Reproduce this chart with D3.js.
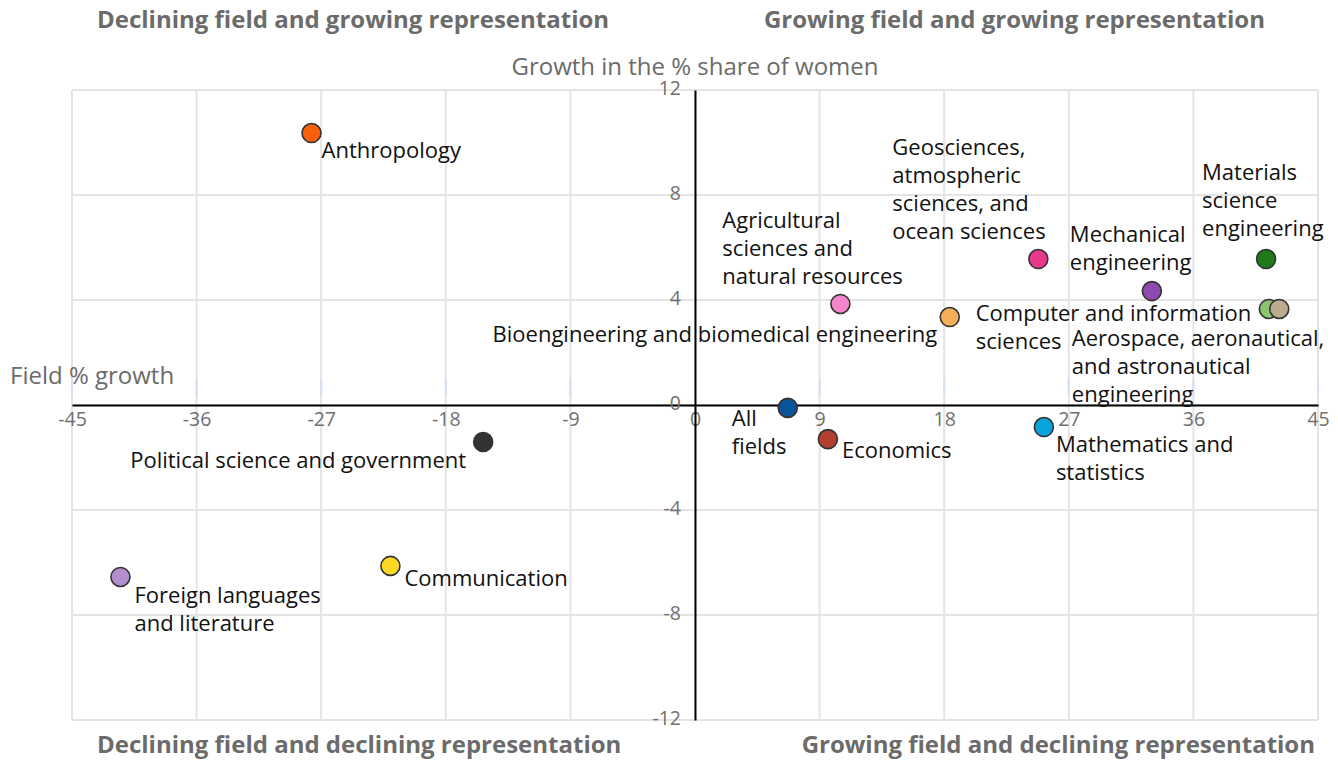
<!DOCTYPE html>
<html>
<head>
<meta charset="utf-8">
<script src="https://cdn.jsdelivr.net/npm/d3@7"></script>
<style>
  body { margin: 0; background: #fff; }
  svg text { font-family: "Open Sans", sans-serif; }
</style>
</head>
<body>
<svg id="chart" width="1338" height="760"></svg>
<script>
// data
var fields = [
    'Anthropology',
    'Political science and government',
    'Foreign languages and literature',
    'Communication',
    'All fields',
    'Economics',
    'Agricultural sciences and natural resources',
    'Computer and information sciences',
    'Geosciences, atmospheric sciences, and ocean sciences',
    'Mathematics and statistics',
    'Mechanical engineering',
    'Materials science engineering',
    'Aerospace, aeronautical, and astronautical engineering',
    'Bioengineering and biomedical engineering'
];
var fieldGrowth = [-27.7, -15.3, -41.5, -22.0, 6.7, 9.6, 10.5, 18.4, 24.8, 25.2, 33.0, 41.25, 41.45, 42.2];
var womenShareGrowth = [10.36, -1.41, -6.55, -6.13, -0.11, -1.3, 3.85, 3.35, 5.56, -0.84, 4.34, 5.56, 3.66, 3.66];
var xTicks = [-45, -36, -27, -18, -9, 0, 9, 18, 27, 36, 45];
var yTicks = [-12, -8, -4, 0, 4, 8, 12];
var quadrantTitles = [
    'Declining field and growing representation',
    'Growing field and growing representation',
    'Declining field and declining representation',
    'Growing field and declining representation'
];

var colors = ['#f8600c', '#333333', '#b48fd0', '#fdd827', '#0a5499', '#b2402e', '#f686cc',
    '#f5ae5a', '#e8388c', '#0aa4dc', '#8c4caf', '#1f7a19', '#8bc56f', '#bcab8c'];

// label lines + offset (px) from the marker, anchor
var labelLayout = [
    { lines: ['Anthropology'], dx: 10, dy: 25 },
    { lines: ['Political science and government'], dx: -17, dy: 26, anchor: 'end' },
    { lines: ['Foreign languages', 'and literature'], dx: 14, dy: 26 },
    { lines: ['Communication'], dx: 14, dy: 20 },
    { lines: ['All', 'fields'], dx: -56, dy: 18 },
    { lines: ['Economics'], dx: 14, dy: 19 },
    { lines: ['Agricultural', 'sciences and', 'natural resources'], dx: -118, dy: -76 },
    { lines: ['Computer and information', 'sciences'], dx: 26, dy: 4 },
    { lines: ['Geosciences,', 'atmospheric', 'sciences, and', 'ocean sciences'], dx: -146, dy: -104 },
    { lines: ['Mathematics and', 'statistics'], dx: 12, dy: 25 },
    { lines: ['Mechanical', 'engineering'], dx: -82, dy: -49 },
    { lines: ['Materials', 'science', 'engineering'], dx: -64, dy: -79 },
    { lines: ['Aerospace, aeronautical,', 'and astronautical', 'engineering'], dx: -197, dy: 37 },
    { lines: ['Bioengineering and biomedical engineering'], dx: -342, dy: 33, anchor: 'end' }
];

var svg = d3.select('#chart');
var margin = { top: 90, right: 20, bottom: 40, left: 72 },
    width = 1338 - margin.left - margin.right,
    height = 760 - margin.top - margin.bottom;

var xScale = d3.scaleLinear().domain([-45, 45]).range([0, width]);
var yScale = d3.scaleLinear().domain([-12, 12]).range([height, 0]);

var g = svg.append('g').attr('transform', `translate(${margin.left},${margin.top})`);

// grid
g.append('g').selectAll('line').data(xTicks).enter().append('line')
    .attr('x1', d => xScale(d)).attr('x2', d => xScale(d))
    .attr('y1', 0).attr('y2', height)
    .attr('stroke', '#e4e4e4').attr('stroke-width', 2);
g.append('g').selectAll('line').data(yTicks).enter().append('line')
    .attr('y1', d => yScale(d)).attr('y2', d => yScale(d))
    .attr('x1', 0).attr('x2', width)
    .attr('stroke', '#e4e4e4').attr('stroke-width', 2);
// faint blue marks just above the zero line
g.append('g').selectAll('line').data(xTicks.filter(d => d !== 0)).enter().append('line')
    .attr('x1', d => xScale(d)).attr('x2', d => xScale(d))
    .attr('y1', yScale(1)).attr('y2', yScale(0.35))
    .attr('stroke', '#d3e0f3').attr('stroke-width', 2);

// axes through zero
var xAxis = g.append('g')
    .attr('transform', `translate(0,${yScale(0)})`)
    .call(d3.axisBottom(xScale).tickValues(xTicks).tickFormat(d => String(d)).tickSize(0).tickPadding(7));
xAxis.select('.domain').attr('stroke', '#000').attr('stroke-width', 2);
xAxis.selectAll('text').attr('fill', '#6f6f6f').style('font-size', '19.5px');

var yAxis = g.append('g')
    .attr('transform', `translate(${xScale(0)},0)`)
    .call(d3.axisLeft(yScale).tickValues(yTicks).tickFormat(d => String(d)).tickSize(0).tickPadding(14));
yAxis.select('.domain').attr('stroke', '#000').attr('stroke-width', 2);
yAxis.selectAll('text').attr('fill', '#6f6f6f').style('font-size', '19.5px').attr('dy', '0.22em');

// axis titles
svg.append('text')
    .attr('x', margin.left + xScale(0)).attr('y', 75)
    .attr('text-anchor', 'middle').attr('fill', '#6b6b6b').style('font-size', '24px')
    .text('Growth in the % share of women');
svg.append('text')
    .attr('x', 10).attr('y', 384)
    .attr('fill', '#6b6b6b').style('font-size', '24px')
    .text('Field % growth');

// quadrant titles
var qPos = [
    { x: 97, y: 28, anchor: 'start' },
    { x: 1265, y: 28, anchor: 'end' },
    { x: 97, y: 753, anchor: 'start' },
    { x: 1315, y: 753, anchor: 'end' }
];
svg.append('g').selectAll('text').data(quadrantTitles).enter().append('text')
    .attr('x', (d, i) => qPos[i].x).attr('y', (d, i) => qPos[i].y)
    .attr('text-anchor', (d, i) => qPos[i].anchor)
    .attr('fill', '#6b6b6b').style('font-size', '24px').style('font-weight', 'bold')
    .text(d => d);

// points
var points = fields.map((f, i) => ({ name: f, x: fieldGrowth[i], y: womenShareGrowth[i], i: i }));

g.append('g').selectAll('circle').data(points).enter().append('circle')
    .attr('cx', d => xScale(d.x)).attr('cy', d => yScale(d.y))
    .attr('r', 9.5)
    .attr('fill', d => colors[d.i])
    .attr('stroke', '#333').attr('stroke-width', 1.6);

// labels
var labels = g.append('g').selectAll('text').data(points).enter().append('text')
    .attr('x', d => xScale(d.x) + labelLayout[d.i].dx)
    .attr('y', d => yScale(d.y) + labelLayout[d.i].dy)
    .attr('text-anchor', d => labelLayout[d.i].anchor || 'start')
    .attr('fill', '#111').style('font-size', '22px');
labels.each(function (d) {
    var t = d3.select(this);
    labelLayout[d.i].lines.forEach((line, k) => {
        t.append('tspan')
            .attr('x', xScale(d.x) + labelLayout[d.i].dx)
            .attr('dy', k === 0 ? 0 : 28)
            .text(line);
    });
});
</script>
</body>
</html>
